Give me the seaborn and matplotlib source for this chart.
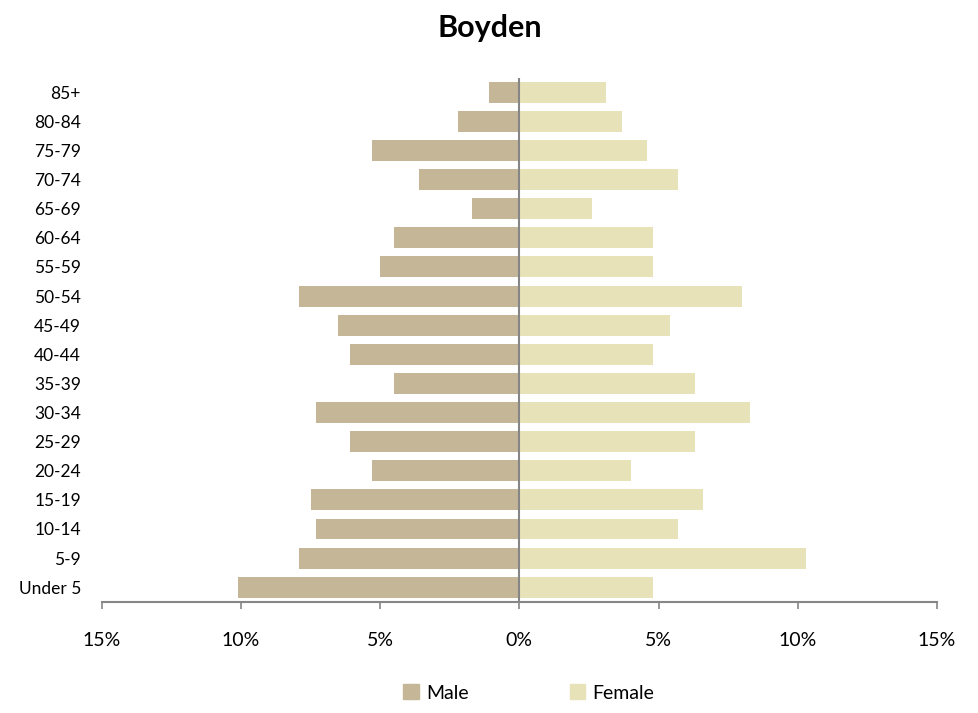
import numpy as np
import pandas as pd
import seaborn as sns
import matplotlib.pyplot as plt
from matplotlib.ticker import FuncFormatter
from matplotlib.patches import Patch

# Age groups, top to bottom as drawn
ages = ['85+', '80-84', '75-79', '70-74', '65-69', '60-64', '55-59', '50-54',
        '45-49', '40-44', '35-39', '30-34', '25-29', '20-24', '15-19',
        '10-14', '5-9', 'Under 5']

# Share of population (%)
male = [1.1, 2.2, 5.3, 3.6, 1.7, 4.5, 5.0, 7.9,
        6.5, 6.1, 4.5, 7.3, 6.1, 5.3, 7.5,
        7.3, 7.9, 10.1]
female = [3.1, 3.7, 4.6, 5.7, 2.6, 4.8, 4.8, 8.0,
          5.4, 4.8, 6.3, 8.3, 6.3, 4.0, 6.6,
          5.7, 10.3, 4.8]

male_color = '#C4B696'
female_color = '#E8E2B8'
axis_color = '#868686'

sns.set_style('white')
plt.rcParams['font.family'] = ['Lato', 'DejaVu Sans']
plt.rcParams['text.color'] = 'black'

df = pd.DataFrame({
    'age': ages * 2,
    'sex': ['Male'] * len(ages) + ['Female'] * len(ages),
    'pct': [-v for v in male] + female,
})

fig = plt.figure(figsize=(9.79, 7.13), dpi=100)
ax = fig.add_axes([0.104, 0.156, 0.853, 0.735])

sns.barplot(data=df, x='pct', y='age', hue='sex', order=ages,
            hue_order=['Male', 'Female'], palette=[male_color, female_color],
            saturation=1, dodge=False, orient='h', width=0.72, linewidth=0,
            ax=ax, legend=False)

ax.set_xlim(-15, 15)
ax.set_xticks(np.arange(-15, 16, 5))
ax.xaxis.set_major_formatter(FuncFormatter(lambda v, p: f'{abs(v):.0f}%'))
ax.set_xlabel('')
ax.set_ylabel('')

for s in ['top', 'right', 'left']:
    ax.spines[s].set_visible(False)
ax.spines['bottom'].set_color(axis_color)
ax.spines['bottom'].set_linewidth(1.5)
ax.axvline(0, color=axis_color, linewidth=1.5, zorder=3)

ax.tick_params(axis='x', direction='out', length=5, width=1.2, color=axis_color,
               pad=17, labelsize=14, labelcolor='black')
ax.tick_params(axis='y', length=0, pad=15, labelsize=12.5, labelcolor='black')
ax.xaxis.set_ticks_position('bottom')

fig.suptitle('Boyden', fontsize=22, fontweight='bold', y=0.98, x=0.5,
             color='black')

handles = [Patch(color=male_color, label='Male'),
           Patch(color=female_color, label='Female')]
fig.legend(handles=handles, loc='center', bbox_to_anchor=(0.54, 0.028),
           ncol=2, frameon=False, fontsize=14, handlelength=0.8,
           handleheight=0.8, handletextpad=0.35, columnspacing=5.2)

fig.savefig('out.png', dpi=100)
